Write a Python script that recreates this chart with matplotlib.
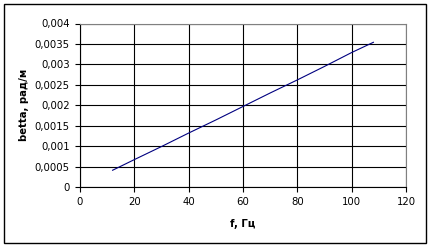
import matplotlib
matplotlib.use("Agg")
import matplotlib.pyplot as plt
from matplotlib.patches import Rectangle

f = [12, 20, 30, 40, 50, 60, 70, 80, 90, 100, 108]
betta = [0.00041, 0.00067, 0.00099, 0.00132, 0.00164, 0.00197, 0.00230, 0.00262, 0.00295, 0.00329, 0.00354]
xticks = [0, 20, 40, 60, 80, 100, 120]
yticks = [0, 0.0005, 0.001, 0.0015, 0.002, 0.0025, 0.003, 0.0035, 0.004]
ylabels = ["0", "0,0005", "0,001", "0,0015", "0,002", "0,0025", "0,003", "0,0035", "0,004"]

plt.rcParams['font.family'] = ['DejaVu Sans']
fig = plt.figure(figsize=(4.3, 2.48), dpi=100)
fig.patches.append(Rectangle((4/430, 5/248), 422/430, 239/248, transform=fig.transFigure,
                             fill=False, edgecolor='black', linewidth=1.0))
ax = fig.add_axes([80/430, 61/248, 326/430, 163.5/248])
ax.plot(f, betta, color='#000080', linewidth=0.8)
ax.set_xlim(0, 120)
ax.set_ylim(0, 0.004)
ax.set_xticks(xticks)
ax.set_xticklabels([str(t) for t in xticks], fontsize=7.3)
ax.set_yticks(yticks)
ax.set_yticklabels(ylabels, fontsize=7.3)
ax.grid(True, color='black', linewidth=0.8)
ax.set_axisbelow(True)
for s in ['top', 'right']:
    ax.spines[s].set_color('#808080')
    ax.spines[s].set_linewidth(0.8)
for s in ['left', 'bottom']:
    ax.spines[s].set_color('black')
    ax.spines[s].set_linewidth(0.8)
ax.tick_params(direction='out', length=3.5, width=0.8, pad=4)
ax.set_xlabel('f, Гц', fontsize=7.3, fontweight='bold', labelpad=8)
ax.set_ylabel('betta, рад/м', fontsize=7.3, fontweight='bold', labelpad=4)
fig.savefig('out.png', dpi=100)
